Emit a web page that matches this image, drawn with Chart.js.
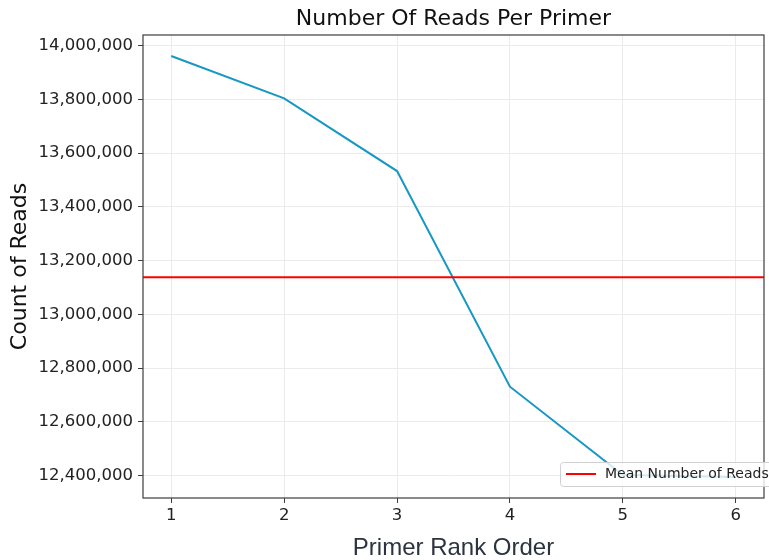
<!DOCTYPE html>
<html>
<head>
<meta charset="utf-8">
<script src="https://cdn.jsdelivr.net/npm/chart.js"></script>
<style>
  body { margin: 0; background: #fff; }
  canvas { display: block; }
</style>
</head>
<body>
<canvas id="chart" width="769" height="560"></canvas>
<script>
const ranks = [1, 2, 3, 4, 5, 6];
const reads = [13961700, 13804000, 13533500, 12730500, 12402000, 12394500];
const yTicks = [12400000, 12600000, 12800000, 13000000, 13200000, 13400000, 13600000, 13800000, 14000000];
const xTicks = [1, 2, 3, 4, 5, 6];
const chartTitle = 'Number Of Reads Per Primer';
const meanLabel = 'Mean Number of Reads';

const meanReads = reads.reduce((a, b) => a + b, 0) / reads.length;

// matplotlib style 5% margins
const xPad = (Math.max(...ranks) - Math.min(...ranks)) * 0.05;
const yPad = (Math.max(...reads) - Math.min(...reads)) * 0.05;
const xMin = Math.min(...ranks) - xPad, xMax = Math.max(...ranks) + xPad;
const yMin = Math.min(...reads) - yPad, yMax = Math.max(...reads) + yPad;

const frame = {
  id: 'frame',
  afterDatasetsDraw(chart) {
    const { ctx, chartArea: a } = chart;
    ctx.save();
    ctx.strokeStyle = '#3d3d3d';
    ctx.lineWidth = 1.2;
    ctx.strokeRect(a.left, a.top, a.right - a.left, a.bottom - a.top);

    // title over the plot area
    ctx.fillStyle = '#111';
    ctx.font = '22px "DejaVu Sans"';
    ctx.textAlign = 'center';
    ctx.textBaseline = 'middle';
    ctx.fillText(chartTitle, (a.left + a.right) / 2, 19);

    // legend, lower right
    ctx.font = '14px "DejaVu Sans"';
    const tw = ctx.measureText(meanLabel).width;
    const bx = 560, by = a.bottom - 36, bw = tw + 52, bh = 24;
    ctx.fillStyle = 'rgba(255,255,255,0.8)';
    ctx.strokeStyle = '#d0d0d0';
    ctx.lineWidth = 1;
    ctx.beginPath();
    ctx.roundRect(bx + 0.5, by + 0.5, bw, bh, 3);
    ctx.fill();
    ctx.stroke();
    ctx.strokeStyle = 'red';
    ctx.lineWidth = 2;
    ctx.beginPath();
    ctx.moveTo(bx + 6, by + 12);
    ctx.lineTo(bx + 36, by + 12);
    ctx.stroke();
    ctx.fillStyle = '#222';
    ctx.textAlign = 'left';
    ctx.fillText(meanLabel, bx + 45, by + 12.5);
    ctx.restore();
  }
};

new Chart(document.getElementById('chart').getContext('2d'), {
  type: 'line',
  data: {
    datasets: [{
      label: 'Reads',
      data: ranks.map((r, i) => ({ x: r, y: reads[i] })),
      borderColor: '#1797c4',
      borderWidth: 2,
      pointRadius: 0,
      tension: 0,
      order: 2
    }, {
      label: meanLabel,
      data: [{ x: xMin, y: meanReads }, { x: xMax, y: meanReads }],
      borderColor: 'red',
      borderWidth: 2,
      pointRadius: 0,
      order: 1
    }]
  },
  options: {
    responsive: false,
    animation: false,
    layout: { padding: { top: 35, right: 5, left: 0, bottom: 0 } },
    plugins: {
      legend: { display: false },
      tooltip: { enabled: false }
    },
    scales: {
      x: {
        type: 'linear',
        min: xMin,
        max: xMax,
        afterBuildTicks: (s) => { s.ticks = xTicks.map((v) => ({ value: v })); },
        afterFit: (s) => { s.height = 62; },
        grid: { color: '#ebebeb', tickColor: '#3d3d3d', tickLength: 5 },
        border: { display: false },
        ticks: {
          color: '#222',
          padding: 3,
          maxRotation: 0,
          font: { family: 'DejaVu Sans', size: 16.5 }
        },
        title: {
          display: true,
          text: 'Primer Rank Order',
          color: '#2b3340',
          padding: { top: 0, bottom: -3 },
          font: { family: 'Liberation Sans', size: 24 }
        }
      },
      y: {
        type: 'linear',
        min: yMin,
        max: yMax,
        afterBuildTicks: (s) => { s.ticks = yTicks.map((v) => ({ value: v })); },
        afterFit: (s) => { s.width = 143; },
        grid: { color: '#ebebeb', tickColor: '#3d3d3d', tickLength: 5 },
        border: { display: false },
        ticks: {
          color: '#222',
          padding: 5,
          font: { family: 'DejaVu Sans', size: 16.5 },
          callback: (v) => v.toLocaleString('en-US')
        },
        title: {
          display: true,
          text: 'Count of Reads',
          color: '#111',
          padding: { top: 7, bottom: 0 },
          font: { family: 'DejaVu Sans', size: 22 }
        }
      }
    }
  },
  plugins: [frame]
});
</script>
</body>
</html>
